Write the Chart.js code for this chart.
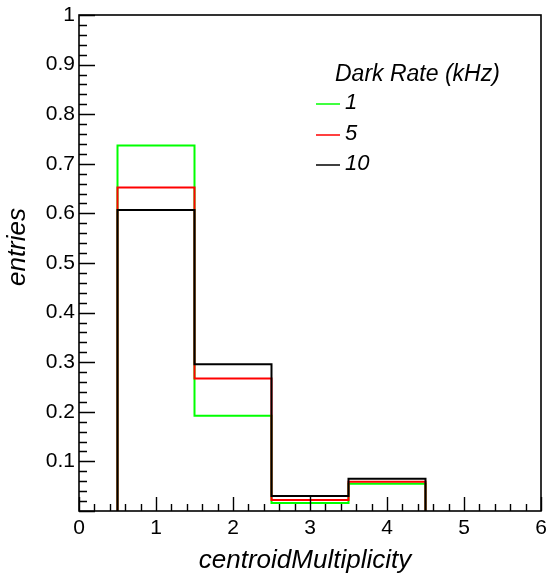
<!DOCTYPE html>
<html><head><meta charset="utf-8">
<script src="https://cdn.jsdelivr.net/npm/chart.js@4.4.1/dist/chart.umd.min.js"></script>
<style>html,body{margin:0;padding:0;background:#fff} #c{display:block}</style>
</head><body>
<canvas id="c" width="547" height="575"></canvas>
<script>
// ---- data ----
const binCenters = [1, 2, 3, 4];
const binWidth = 1;
const rate1 = [0.737, 0.192, 0.016, 0.055];
const rate5 = [0.652, 0.267, 0.022, 0.059];
const rate10 = [0.607, 0.296, 0.030, 0.065];
const seriesLabels = ['1', '5', '10'];
const seriesColors = ['#00ff00', '#ff0000', '#000000'];
const xTickLabels = ['0', '1', '2', '3', '4', '5', '6'];
const yTickLabels = ['0.1', '0.2', '0.3', '0.4', '0.5', '0.6', '0.7', '0.8', '0.9', '1'];
const legendTitle = 'Dark Rate (kHz)';
const xTitle = 'centroidMultiplicity';
const yTitle = 'entries';

const FONT = '"Liberation Sans", Arial, Helvetica, sans-serif';
Chart.defaults.font.family = FONT;
Chart.defaults.color = '#000';

function stepPoints(values) {
  const pts = [];
  values.forEach((v, i) => {
    const lo = binCenters[i] - binWidth / 2, hi = binCenters[i] + binWidth / 2;
    if (i === 0) pts.push({x: lo, y: 0});
    pts.push({x: lo, y: v});
    pts.push({x: hi, y: v});
  });
  pts.push({x: binCenters[binCenters.length - 1] + binWidth / 2, y: 0});
  return pts;
}

const seriesValues = [rate1, rate5, rate10];
const datasets = seriesValues.map((vals, i) => ({
  label: seriesLabels[i],
  data: stepPoints(vals),
  borderColor: seriesColors[i],
  borderWidth: 2,
  pointRadius: 0,
  tension: 0,
  fill: false,
  order: 3 - i
}));

const framePlugin = {
  id: 'rootFrame',
  afterDatasetsDraw(chart) {
    const {ctx, chartArea: a, scales: {x, y}} = chart;
    ctx.save();
    ctx.strokeStyle = '#000';
    ctx.lineWidth = 1.6;
    ctx.strokeRect(a.left, a.top, a.right - a.left, a.bottom - a.top);
    ctx.lineWidth = 1.4;
    ctx.beginPath();
    for (let k = 0; k <= 50; k++) {
      const py = Math.round(y.getPixelForValue(k * 0.02)) + 0.5;
      const len = (k % 5 === 0) ? 16 : 8;
      ctx.moveTo(a.left, py); ctx.lineTo(a.left + len, py);
    }
    for (let k = 0; k <= 30; k++) {
      const px = Math.round(x.getPixelForValue(k * 0.2)) + 0.5;
      const len = (k % 5 === 0) ? 14 : 7;
      ctx.moveTo(px, a.bottom); ctx.lineTo(px, a.bottom - len);
    }
    ctx.stroke();

    // axis titles
    ctx.fillStyle = '#000';
    ctx.font = 'italic 26px ' + FONT;
    ctx.textAlign = 'center';
    ctx.textBaseline = 'alphabetic';
    ctx.fillText(xTitle, 305, 568);
    ctx.save();
    ctx.translate(25, 247);
    ctx.rotate(-Math.PI / 2);
    ctx.fillText(yTitle, 0, 0);
    ctx.restore();

    // legend
    ctx.textAlign = 'left';
    ctx.font = 'italic 23px ' + FONT;
    ctx.fillText(legendTitle, 335, 81);
    ctx.font = 'italic 22px ' + FONT;
    ctx.textBaseline = 'middle';
    const rows = [104, 135, 165];
    chart.data.datasets.forEach((ds, i) => {
      ctx.strokeStyle = ds.borderColor;
      ctx.lineWidth = 1.5;
      ctx.beginPath();
      ctx.moveTo(316, rows[i]); ctx.lineTo(340, rows[i]);
      ctx.stroke();
      ctx.fillText(ds.label, 345, rows[i] - 1);
    });
    ctx.restore();
  }
};

new Chart(document.getElementById('c'), {
  type: 'line',
  data: {datasets},
  options: {
    responsive: false,
    animation: false,
    devicePixelRatio: 1,
    layout: {padding: {top: 15, right: 6, left: 0, bottom: 0}},
    plugins: {legend: {display: false}, tooltip: {enabled: false}},
    scales: {
      x: {
        type: 'linear', min: 0, max: 6,
        grid: {display: false, drawTicks: false, tickLength: 0}, border: {display: false},
        ticks: {
          stepSize: 1, autoSkip: false, maxRotation: 0, padding: 5,
          font: {size: 21},
          callback: v => xTickLabels[Math.round(v)]
        },
        afterFit: s => { s.height = 64; s.paddingLeft = 0; s.paddingRight = 0; }
      },
      y: {
        type: 'linear', min: 0, max: 1,
        grid: {display: false, drawTicks: false, tickLength: 0}, border: {display: false},
        ticks: {
          stepSize: 0.1, autoSkip: false, padding: 4,
          font: {size: 21},
          callback: v => { const n = Math.round(v * 10); return n === 0 ? '' : yTickLabels[n - 1]; }
        },
        afterFit: s => { s.width = 79; s.paddingTop = 0; s.paddingBottom = 0; }
      }
    }
  },
  plugins: [framePlugin]
});
</script>
</body></html>
